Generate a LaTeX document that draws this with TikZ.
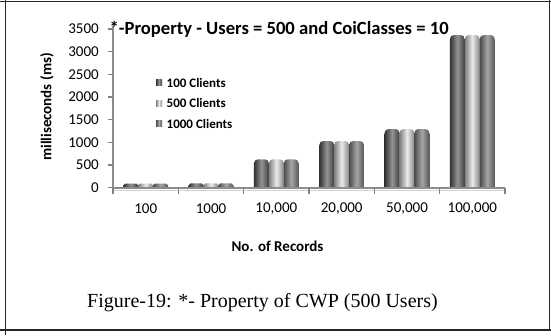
\documentclass[tikz,border=0pt]{standalone}
\usepackage{fontspec}
\setmainfont{Liberation Serif}
\newfontfamily\chartfont{Carlito}

\tikzset{
  frameline/.style={line width=1.3pt, black!85},
  axisline/.style={line width=1.8pt, black!45},
  axisshadow/.style={line width=1.6pt, black!18},
  tickline/.style={line width=1.2pt, black!50},
  ticklabel/.style={font=\chartfont\fontsize{15}{15}\selectfont, inner sep=0pt},
  axistitle/.style={font=\chartfont\bfseries\fontsize{15}{15}\selectfont, inner sep=0pt},
  legendlabel/.style={font=\chartfont\bfseries\fontsize{13}{13}\selectfont, inner sep=0pt, anchor=west},
  charttitle/.style={font=\chartfont\bfseries\fontsize{18.6}{18.6}\selectfont, inner sep=0pt, anchor=base west},
  caption/.style={font=\fontsize{20}{20}\selectfont, inner sep=0pt},
  barA/.style={left color=black!80, right color=black!76, middle color=black!42},
  barB/.style={left color=black!50, right color=black!48, middle color=black!8},
  barC/.style={left color=black!70, right color=black!66, middle color=black!35},
}

\begin{document}
\begin{tikzpicture}[x=1pt, y=-1pt]
  \useasboundingbox (0,0) rectangle (551,335);

  % outer frame
  \draw[frameline] (5.5,0) -- (5.5,335);
  \draw[frameline] (0,1.5) -- (551,1.5);
  \draw[frameline] (549.5,0) -- (549.5,331);
  \draw[frameline] (0,330) -- (551,330);

  % bars: three cylinders per category
  \foreach \i/\t in {0/183.5, 1/183.3, 2/159.3, 3/141, 4/129, 5/35} {
    \pgfmathsetmacro\c{113+65.33*\i}
    \pgfmathsetmacro\r{min(4,(187-\t)/2)}
    \foreach \k/\s in {0/barA, 1/barB, 2/barC} {
      \pgfmathsetmacro\xa{\c+10.3+14.9*\k}
      \pgfmathsetmacro\xb{\xa+14.9}
      \shade[\s, rounded corners=\r pt] (\xa,\t) rectangle (\xb,\t+2*\r);
      \shade[\s] (\xa,\t+\r) rectangle (\xb,187);
    }
  }

  % axes
  \draw[axisshadow] (113,190.3) -- (505,190.3);
  \draw[axisline] (113,26) -- (113,188.5);
  \draw[axisline] (112,188) -- (505,188);
  \foreach \i in {0,...,6}
    \draw[tickline] (113+65.33*\i,188) -- (113+65.33*\i,193.5);
  \foreach \k in {0,...,7}
    \draw[tickline] (108,187.7-22.67*\k) -- (113,187.7-22.67*\k);

  % y tick labels
  \foreach \k/\v in {0/0, 1/500, 2/1000, 3/1500, 4/2000, 5/2500, 6/3000, 7/3500}
    \node[ticklabel, anchor=east] (yl\k) at (99,187.7-22.67*\k) {\v};

  % x category labels
  \foreach \i/\v in {0/100, 1/1000, 2/{10,000}, 3/{20,000}, 4/{50,000}, 5/{100,000}}
    \node[ticklabel] (xl\i) at (145.7+65.33*\i,209) {\v};

  % axis titles
  \node[axistitle, rotate=90] (ytitle) at (47,107) {milliseconds (ms)};
  \node[axistitle] (xtitle) at (277.5,246) {No. of Records};

  % chart title
  \node[charttitle] (title) at (109.5,34.5) {*-Property - Users = 500 and CoiClasses = 10};

  % legend
  \foreach \j/\s/\l in {0/barA/100 Clients, 1/barB/500 Clients, 2/barC/1000 Clients} {
    \shade[\s] (156,79.5+20.5*\j) rectangle (162,85.5+20.5*\j);
    \node[legendlabel] (leg\j) at (166.5,82.5+20.5*\j) {\l};
  }

  % caption
  \node[caption] (cap) at (262.5,303) {Figure-19: *- Property of CWP (500 Users)};
\end{tikzpicture}
\end{document}
